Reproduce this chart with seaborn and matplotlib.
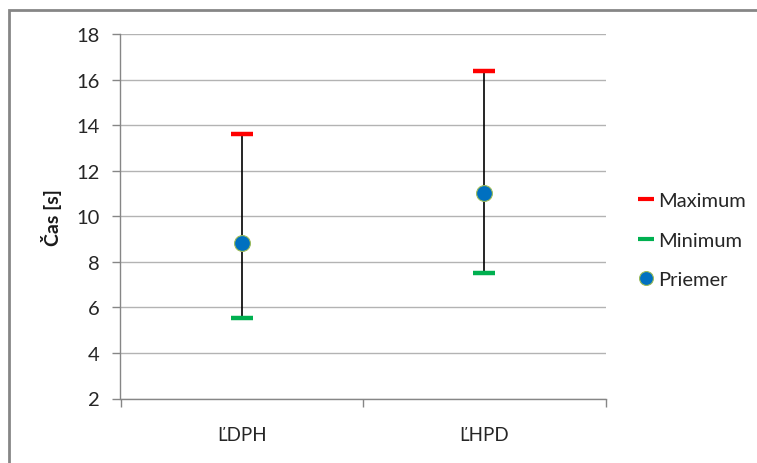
import matplotlib
matplotlib.use("Agg")
import matplotlib.pyplot as plt
from matplotlib.lines import Line2D
from matplotlib.patches import Rectangle
import seaborn as sns
import pandas as pd

# Data: reaction time per method
categories = ["ĽDPH", "ĽHPD"]
maximum = [13.6, 16.37]
minimum = [5.55, 7.52]
mean = [8.82, 11.04]

y_ticks = [2, 4, 6, 8, 10, 12, 14, 16, 18]

df = pd.DataFrame({"metóda": categories, "max": maximum, "min": minimum, "priemer": mean})
df["x"] = range(len(categories))

sns.set_theme(style="white")
plt.rcParams["font.family"] = ["Lato", "DejaVu Sans"]

GRAY = "#868686"
GRID = "#b3b3b3"
RED = "#FF0000"
GREEN = "#00B050"
BLUE = "#0070C0"
EDGE = "#9BBB59"
TEXT = "#262626"

fig = plt.figure(figsize=(7.57, 4.64), dpi=100)
ax = fig.add_axes([120.5 / 757, 1 - 399.5 / 464, 485 / 757, 364.5 / 464])

# whisker from minimum to maximum
ax.vlines(df["x"], df["min"], df["max"], color="black", lw=1.2, zorder=2)

# caps for max and min
sns.scatterplot(data=df, x="x", y="max", marker="_", s=230, color=RED,
                linewidth=3.2, ax=ax, zorder=3, legend=False)
sns.scatterplot(data=df, x="x", y="min", marker="_", s=230, color=GREEN,
                linewidth=3.2, ax=ax, zorder=3, legend=False)
# mean point
sns.scatterplot(data=df, x="x", y="priemer", marker="o", s=130, color=BLUE,
                edgecolor=EDGE, linewidth=0.8, ax=ax, zorder=4, legend=False)

ax.set_xlim(-0.5, 1.5)
ax.set_ylim(2, 18)
ax.set_yticks(y_ticks)
ax.set_yticklabels([str(t) for t in y_ticks])
ax.yaxis.grid(True, color=GRID, lw=1.0)
ax.set_axisbelow(True)

# category boundaries as ticks, labels centered between them
ax.set_xticks([-0.5, 0.5, 1.5])
ax.set_xticklabels([])
ax.set_xticks([0, 1], minor=True)
ax.set_xticklabels(categories, minor=True)
ax.tick_params(axis="x", which="major", length=6, width=1, color=GRAY, direction="out")
ax.tick_params(axis="x", which="minor", length=0, pad=20, labelsize=13.5, labelcolor=TEXT)
ax.tick_params(axis="y", length=6, width=1, color=GRAY, direction="out", pad=9,
               labelsize=14.5, labelcolor=TEXT)
ax.tick_params(axis="both", bottom=True, left=True, which="major")

for side in ["top", "right"]:
    ax.spines[side].set_visible(False)
for side in ["left", "bottom"]:
    ax.spines[side].set_color(GRAY)
    ax.spines[side].set_linewidth(1.0)

ax.set_xlabel("")
ax.set_ylabel("Čas [s]", fontsize=14, fontweight="bold", color="#1a1a1a", labelpad=10)

handles = [
    Line2D([], [], color=RED, marker="_", markersize=11, markeredgewidth=3, linestyle="none"),
    Line2D([], [], color=GREEN, marker="_", markersize=11, markeredgewidth=3, linestyle="none"),
    Line2D([], [], color=BLUE, marker="o", markersize=10, markeredgecolor=EDGE,
           markeredgewidth=0.8, linestyle="none"),
]
fig.legend(handles, ["Maximum", "Minimum", "Priemer"], loc="center left",
           bbox_to_anchor=(621 / 757, 1 - 241 / 464), frameon=False, fontsize=14.5,
           handlelength=0.65, handletextpad=0.3, labelspacing=1.1,
           labelcolor=TEXT)

# chart-area frame
fig.patches.append(Rectangle((9 / 757, -0.1), 1.2, 1.1 - 11 / 464, transform=fig.transFigure,
                             fill=False, edgecolor=GRAY, lw=2.0, zorder=0))

fig.savefig("out.png", dpi=100)
